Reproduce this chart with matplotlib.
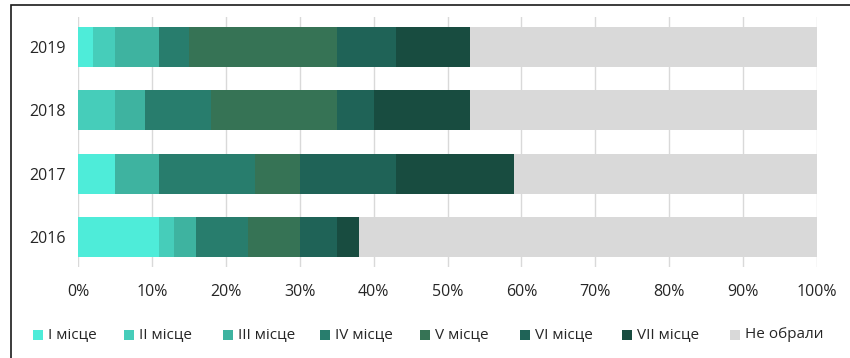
import matplotlib.pyplot as plt
from matplotlib.patches import Rectangle

# Роки та частки (%) кожного місця
years = ['2016', '2017', '2018', '2019']
place_names = ['I місце', 'II місце', 'III місце', 'IV місце',
               'V місце', 'VI місце', 'VII місце', 'Не обрали']
place_1 = [11, 5, 0, 2]
place_2 = [2, 0, 5, 3]
place_3 = [3, 6, 4, 6]
place_4 = [7, 13, 9, 4]
place_5 = [7, 6, 17, 20]
place_6 = [5, 13, 5, 8]
place_7 = [3, 16, 13, 10]
not_chosen = [62, 41, 47, 47]

series = [place_1, place_2, place_3, place_4, place_5, place_6, place_7, not_chosen]
colors = ['#4eecd9', '#46cdba', '#3eb3a0', '#287d6d',
          '#367355', '#1f6357', '#184c40', '#d9d9d9']

plt.rcParams['font.family'] = ['Open Sans', 'DejaVu Sans']

W, H = 850, 358
fig = plt.figure(figsize=(W / 100, H / 100), dpi=100)
ax = fig.add_axes([78 / W, 91 / H, 739 / W, 250 / H])

left = [0] * len(years)
for vals, col, name in zip(series, colors, place_names):
    ax.barh(years, vals, left=left, height=0.635, color=col, label=name, zorder=3)
    left = [l + v for l, v in zip(left, vals)]

ax.set_xlim(0, 100)
ax.set_ylim(-0.48, 3.48)
ax.set_xticks(range(0, 101, 10))
ax.set_xticklabels([f'{t}%' for t in range(0, 101, 10)])
ax.grid(axis='x', color='#d9d9d9', linewidth=1, zorder=0)
for s in ax.spines.values():
    s.set_visible(False)
ax.tick_params(axis='both', length=0, labelsize=11.5, colors='#262626')
ax.tick_params(axis='x', pad=12)
ax.tick_params(axis='y', pad=9)

# рамка навколо графіка
fig.patches.append(Rectangle((11 / W, -0.1), 1.2, 1.1 - 5 / H, transform=fig.transFigure,
                             fill=False, edgecolor='#1a1a1a', linewidth=1.2))

# легенда в один рядок: квадратик + підпис
legend_x = [38, 129, 228, 325, 425, 525, 627, 735]
legend_y = 335
box = 10
for x, col, name in zip(legend_x, colors, place_names):
    fig.patches.append(Rectangle(((x - box / 2) / W, (H - legend_y - box / 2) / H),
                                 box / W, box / H, transform=fig.transFigure,
                                 facecolor=col, edgecolor='none'))
    fig.text((x + 10) / W, (H - legend_y) / H, name, ha='left', va='center',
             fontsize=11, color='#262626')

fig.savefig('out.png', dpi=100)
